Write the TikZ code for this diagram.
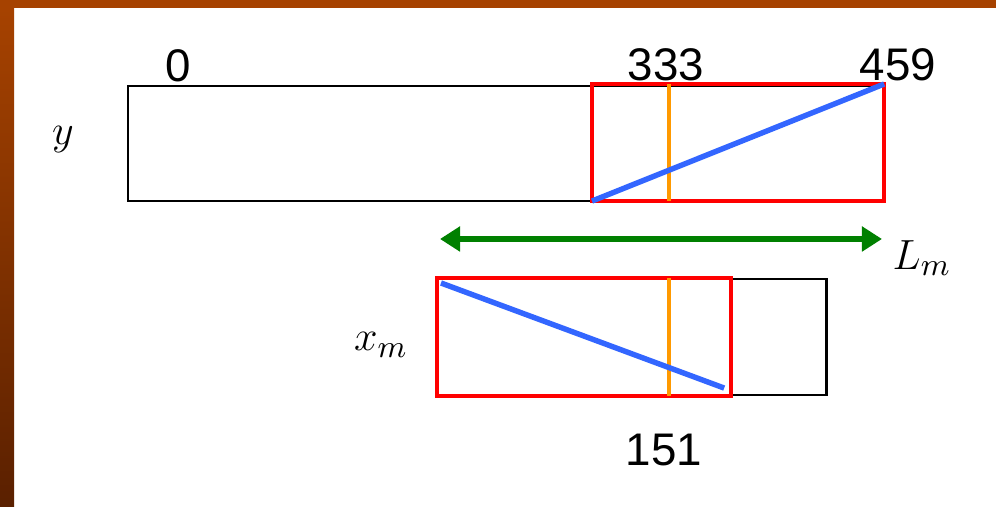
\documentclass[tikz,border=0pt]{standalone}
\usepackage{fontspec}
\setmainfont{Liberation Sans}
\usetikzlibrary{arrows.meta,positioning}

\begin{document}
\begin{tikzpicture}[
  x=0.01cm, y=-0.01cm,
  blk/.style={draw=black, line width=0.8pt, inner sep=0pt, outer sep=0pt, anchor=north west},
  win/.style={draw=red, line width=1.2pt, inner sep=0pt, outer sep=0pt, anchor=north west},
  diag/.style={color={rgb,255:red,51;green,102;blue,255}, line width=1.55pt},
  mark333/.style={color={rgb,255:red,255;green,153;blue,0}, line width=1pt},
  num/.style={font=\fontsize{13}{15}\selectfont, inner sep=0pt},
  sym/.style={font=\fontsize{13}{15}\selectfont, inner sep=0pt},
]
% frame
\useasboundingbox (0,0) rectangle (996,507);
\fill[white] (0,0) rectangle (996,507);
\fill[color={rgb,255:red,166;green,66;blue,0}] (0,0) rectangle (996,8);
\shade[top color={rgb,255:red,166;green,66;blue,0}, bottom color={rgb,255:red,90;green,32;blue,0}] (0,8) rectangle (14,507);

% upper sequence y
\node[blk, minimum width=7.55cm, minimum height=1.15cm] (seqy) at (128,86) {};
\node[win, minimum width=2.92cm, minimum height=1.17cm] (winy) at (592,84) {};
\coordinate (cut) at (669,0);
\draw[mark333] (cut |- winy.north) -- (cut |- winy.south);
\draw[diag] (winy.south west) -- (winy.north east);

% lower sequence x_m
\node[blk, minimum width=3.89cm, minimum height=1.16cm] (seqx) at (437,279) {};
\node[win, minimum width=2.94cm, minimum height=1.18cm] (winx) at (437,278) {};
\draw[mark333] (cut |- winx.north) -- (cut |- winx.south);
\draw[diag] ([shift={(4,5)}]winx.north west) -- ([shift={(-7,-8)}]winx.south east);

% shift L_m
\coordinate (lml) at (440,239);
\coordinate (lmr) at (882,239);
\draw[{Triangle[length=0.2cm,width=0.24cm]}-{Triangle[length=0.2cm,width=0.24cm]}, line width=1.45pt, color={rgb,255:red,0;green,128;blue,0}] (lml) -- (lmr);

% labels
\node[num] (n0)   at (178,66) {0};
\node[num] (n333) at (666,65) {333};
\node[num] (n459) at (898,65) {459};
\node[num] (n151) at (664,450) {151};
\node[sym] (ly)  at (63,140) {$y$};
\node[sym] (lx)  at (381,345) {$x_m$};
\node[sym] (lL)  at (922,258) {$L_m$};
\end{tikzpicture}
\end{document}
